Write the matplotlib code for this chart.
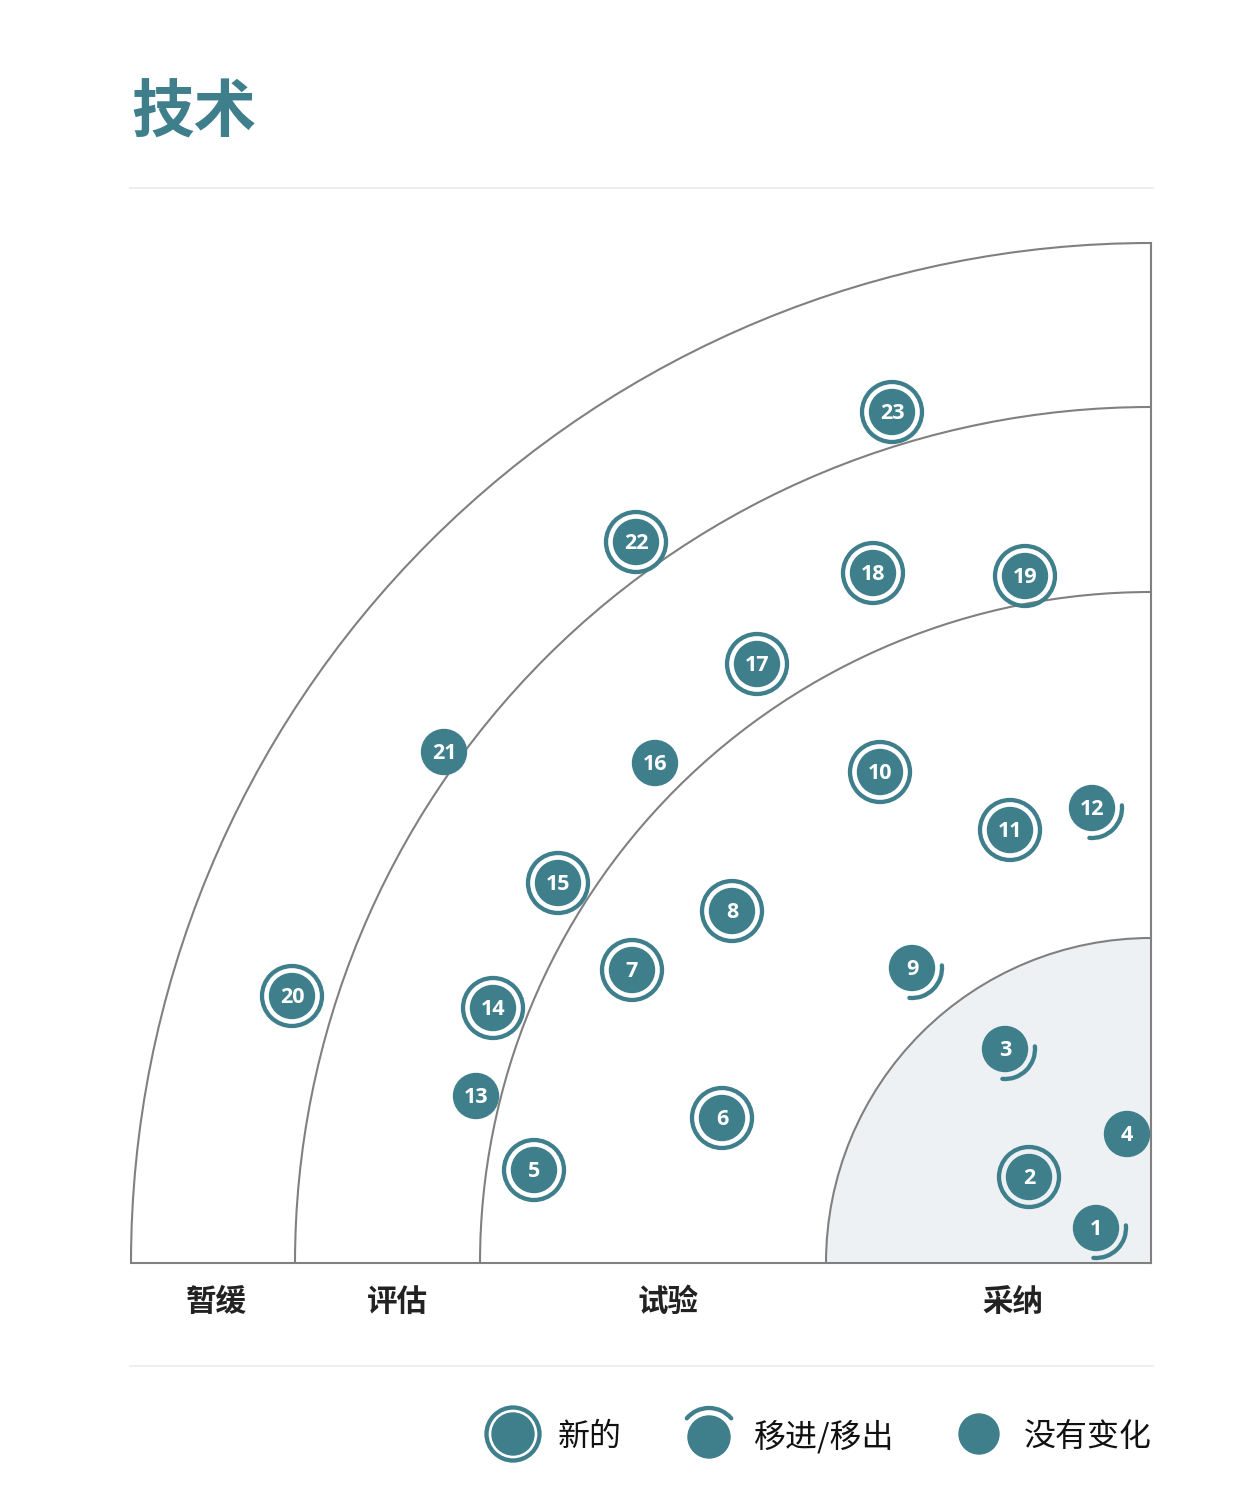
import numpy as np
import matplotlib
matplotlib.use('Agg')
import matplotlib.pyplot as plt
from matplotlib.patches import Circle, Wedge, Arc

plt.rcParams['font.family'] = ['Noto Sans CJK SC', 'DejaVu Sans']

TEAL = '#3f7f8c'
GRAY = '#808080'

# ring outer radii (radar units = px), inner to outer
ring_names = ['采纳', '试验', '评估', '暂缓']
ring_radius = [325, 671, 856, 1020]
ring_label_x = [138, 483, 754, 935]   # distance to the left of the centre

# blips: number, distance left of centre, height above baseline, status
blip_num = list(range(1, 24))
blip_dx = [55, 122, 146, 24, 617, 429, 519, 419, 239, 271, 141, 59,
           675, 658, 593, 496, 394, 278, 126, 859, 707, 515, 259]
blip_dy = [35, 86, 214, 129, 93, 145, 293, 352, 295, 491, 433, 455,
           167, 255, 380, 500, 599, 690, 687, 267, 511, 721, 851]
blip_status = ['moved', 'new', 'moved', 'same', 'new', 'new', 'new', 'new',
               'moved', 'new', 'new', 'moved', 'same', 'new', 'new', 'same',
               'new', 'new', 'new', 'new', 'same', 'new', 'new']

legend_labels = ['新的', '移进/移出', '没有变化']
legend_status = ['new', 'moved', 'same']
legend_x = [638, 442, 172]  # icon distance left of centre


def draw_blip(ax, x, y, status, r=22.5):
    ax.add_patch(Circle((x, y), r, color=TEAL, zorder=5))
    if status == 'new':
        ax.add_patch(Circle((x, y), r + 7.5, fill=False, ec=TEAL, lw=3.1, zorder=5))
    elif status == 'moved':
        ax.add_patch(Arc((x, y), 2 * (r + 7.5), 2 * (r + 7.5), theta1=-95, theta2=5,
                         ec=TEAL, lw=3.1, capstyle='round', zorder=5))


fig = plt.figure(figsize=(12.46, 14.98), dpi=100)
ax = fig.add_axes([0, 0, 1, 1])
ax.set_xlim(-1151, 95)
ax.set_ylim(-235, 1263)
ax.set_aspect('equal')
ax.axis('off')

# rings
ax.add_patch(Wedge((0, 0), ring_radius[0], 90, 180, fc='#edf1f4', ec='none', zorder=1))
for r in ring_radius:
    ax.add_patch(Arc((0, 0), 2 * r, 2 * r, theta1=90, theta2=180, ec=GRAY, lw=1.5, zorder=2))
R = ring_radius[-1]
ax.plot([0, 0], [0, R], color=GRAY, lw=1.5, zorder=2)
ax.plot([-R, 0], [0, 0], color=GRAY, lw=1.5, zorder=2)

for name, lx in zip(ring_names, ring_label_x):
    ax.text(-lx, -39, name, ha='center', va='center', fontsize=22,
            fontweight='bold', color='#222222')

# blips
for n, dx, dy, st in zip(blip_num, blip_dx, blip_dy, blip_status):
    draw_blip(ax, -dx, dy, st)
    ax.text(-dx, dy - 1.5, str(n), ha='center', va='center', color='white',
            fontsize=15.5, fontweight='bold', family=['Open Sans', 'DejaVu Sans'], zorder=6)

# title and separators
ax.text(-1020, 1150, '技术', ha='left', va='center', fontsize=45,
        fontweight='bold', color=TEAL)
ax.plot([-1021, 2], [1075, 1075], color='#eeeeee', lw=1.5)
ax.plot([-1021, 2], [-103, -103], color='#eeeeee', lw=1.5)

# legend
for lab, st, lx in zip(legend_labels, legend_status, legend_x):
    if st == 'moved':
        ax.add_patch(Circle((-lx, -174), 21, color=TEAL))
        ax.add_patch(Arc((-lx, -174), 58, 58, theta1=40, theta2=140,
                         ec=TEAL, lw=3.1, capstyle='round'))
    elif st == 'new':
        ax.add_patch(Circle((-lx, -171), 21, color=TEAL))
        ax.add_patch(Circle((-lx, -171), 26.5, fill=False, ec=TEAL, lw=3.1))
    else:
        ax.add_patch(Circle((-lx, -171), 20, color=TEAL))
    ax.text(-lx + 45, -174, lab, ha='left', va='center', fontsize=23, color='#111111')

fig.savefig('out.png', dpi=100, facecolor='white')
